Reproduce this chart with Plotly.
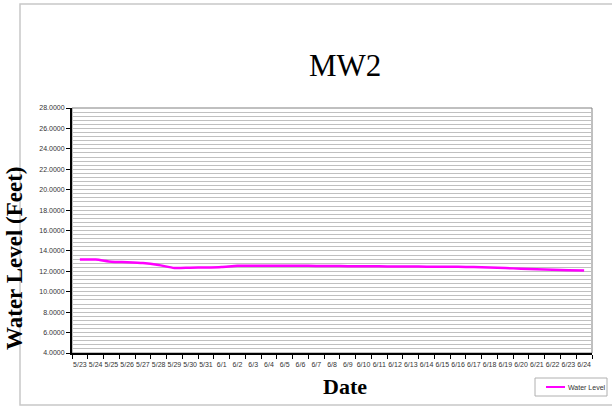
import plotly.graph_objects as go

dates = ["5/23", "5/24", "5/25", "5/26", "5/27", "5/28", "5/29", "5/30", "5/31",
         "6/1", "6/2", "6/3", "6/4", "6/5", "6/6", "6/7", "6/8", "6/9", "6/10",
         "6/11", "6/12", "6/13", "6/14", "6/15", "6/16", "6/17", "6/18", "6/19",
         "6/20", "6/21", "6/22", "6/23", "6/24"]
water_level = [13.15, 13.15, 12.95, 12.90, 12.82, 12.62, 12.33, 12.36, 12.38,
               12.43, 12.55, 12.55, 12.55, 12.54, 12.54, 12.53, 12.52, 12.51, 12.50,
               12.49, 12.48, 12.47, 12.46, 12.45, 12.44, 12.42, 12.38, 12.32,
               12.26, 12.20, 12.15, 12.11, 12.07]
series_name = "Water Level"
line_color = "#ff00ff"

W, H = 612, 409
L, R, T, B = 72, 20, 108, 56
pw, ph = W - L - R, H - T - B

def px(x):
    return (x - L) / pw

def py(y):
    return (H - B - y) / ph

fig = go.Figure()
fig.add_trace(go.Scatter(
    x=dates, y=water_level, mode="lines", name=series_name,
    line=dict(color=line_color, width=2.5, shape="spline", smoothing=0.6),
    showlegend=False,
))

fig.update_layout(
    width=W, height=H,
    margin=dict(l=L, r=R, t=T, b=B, pad=0, autoexpand=False),
    paper_bgcolor="white", plot_bgcolor="white",
    font=dict(family="Liberation Sans, Arial", size=7, color="#333"),
    showlegend=False,
    xaxis=dict(
        type="category", range=[-0.5, len(dates) - 0.5],
        showline=True, linecolor="black", linewidth=2, mirror=False,
        ticks="outside", tickson="boundaries", ticklen=4, tickcolor="black",
        showgrid=False, tickangle=0, tickfont=dict(size=7, color="#333"),
        ticklabelstandoff=4, zeroline=False, automargin=False,
    ),
    yaxis=dict(
        range=[4, 28], dtick=2, tick0=4, tickformat=".4f",
        showline=True, linecolor="black", linewidth=2, mirror=False,
        ticks="outside", ticklen=4, tickcolor="black",
        showgrid=True, gridcolor="#c0c0c0", gridwidth=1,
        minor=dict(dtick=0.4, tick0=4, showgrid=True, gridcolor="#c0c0c0", gridwidth=1),
        tickfont=dict(size=7, color="#333"), zeroline=False, automargin=False,
    ),
    shapes=[
        dict(type="rect", xref="paper", yref="paper", x0=0, x1=1, y0=0, y1=1,
             line=dict(color="#808080", width=1), layer="below"),
        dict(type="rect", xref="paper", yref="paper",
             x0=px(20), x1=px(615), y0=py(405), y1=py(4),
             line=dict(color="#c8c8c8", width=1.5)),
        # legend box and sample line
        dict(type="rect", xref="paper", yref="paper",
             x0=px(535), x1=px(607), y0=py(396), y1=py(378),
             line=dict(color="#b0b0b0", width=1), fillcolor="white"),
        dict(type="line", xref="paper", yref="paper",
             x0=px(546), x1=px(565), y0=py(387), y1=py(387),
             line=dict(color=line_color, width=2)),
    ],
    annotations=[
        dict(text="MW2", xref="paper", yref="paper", x=px(345), y=py(66),
             showarrow=False, xanchor="center", yanchor="middle",
             font=dict(family="Liberation Serif, Times New Roman", size=31, color="black")),
        dict(text="<b>Water Level (Feet)</b>", xref="paper", yref="paper",
             x=px(14), y=py(259), textangle=-90, showarrow=False,
             xanchor="center", yanchor="middle",
             font=dict(family="Liberation Serif, Times New Roman", size=23, color="black")),
        dict(text="<b>Date</b>", xref="paper", yref="paper", x=px(345), y=py(386),
             showarrow=False, xanchor="center", yanchor="middle",
             font=dict(family="Liberation Serif, Times New Roman", size=22, color="black")),
        dict(text=series_name, xref="paper", yref="paper", x=px(566), y=py(387),
             showarrow=False, xanchor="left", yanchor="middle",
             font=dict(family="Liberation Sans, Arial", size=7, color="#333")),
    ],
)

fig.write_html("out.html", config={"displayModeBar": False},
               post_script="document.body.style.margin='0';")
